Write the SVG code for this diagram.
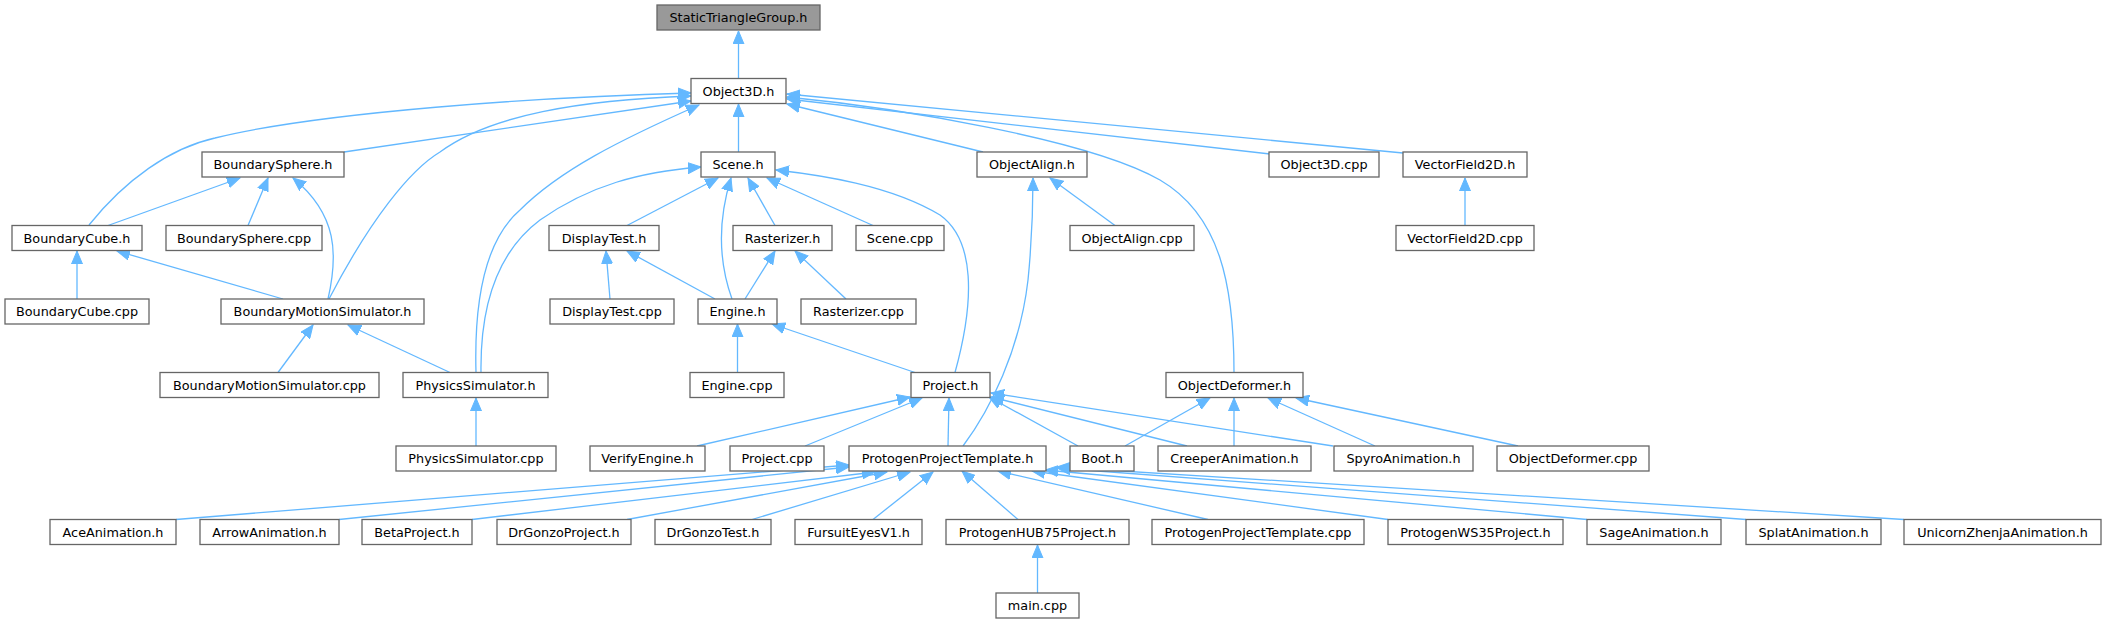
<svg xmlns="http://www.w3.org/2000/svg" width="2106" height="623" viewBox="0 0 2106 623">
<defs>
<style>
.node rect{fill:#ffffff;stroke:#666666;stroke-width:1.3}
.node.root rect{fill:#999999}
.node text{font-family:"DejaVu Sans","Liberation Sans",sans-serif;font-size:12.8px;fill:#000000;text-anchor:middle}
.edges path{fill:none;stroke:#63b8ff;stroke-width:1.3;marker-end:url(#ah)}
</style>
<marker id="ah" markerUnits="userSpaceOnUse" markerWidth="14" markerHeight="12" viewBox="0 0 14 12" refX="13" refY="6" orient="auto">
<path d="M0,0.5 L13,6 L0,11.5 z" fill="#63b8ff" stroke="#63b8ff" stroke-width="1"/>
</marker>
</defs>
<rect width="2106" height="623" fill="#ffffff"/>
<g class="edges">
<path d="M738.5,78.5 L738.5,31"/>
<path d="M89,225 C125,180 170,148 215,138 C320,112 540,97 691,93"/>
<path d="M344,152 L691,101"/>
<path d="M329,299 C370,220 410,170 440,152 C490,115 580,100 691,96"/>
<path d="M476,372.5 C474,300 485,240 520,210 C560,170 620,140 699,105"/>
<path d="M738.5,152 L738.5,104"/>
<path d="M983,152 L787,104"/>
<path d="M1234,372.5 C1234,285 1220,215 1160,180 C1090,140 900,108 787,97"/>
<path d="M1270,154 L787,99"/>
<path d="M1403,153 L787,94"/>
<path d="M108,225.5 L240,178"/>
<path d="M248,225.5 L268,178"/>
<path d="M328,299 C338,255 338,215 293,178"/>
<path d="M77,299 L77,251"/>
<path d="M283,299 L117,251"/>
<path d="M278,372.5 L313,325"/>
<path d="M450,372.5 L348,325"/>
<path d="M476,446 L476,398"/>
<path d="M627,225.5 L718,178"/>
<path d="M481,372.5 C480,300 500,250 540,220 C590,185 640,172 701,167"/>
<path d="M732,299 C718,260 718,220 731,178"/>
<path d="M775,225.5 L748,178"/>
<path d="M873,225.5 L767,178"/>
<path d="M955,372.5 C975,300 975,240 940,215 C890,185 820,175 776,170"/>
<path d="M610,299 L606,251"/>
<path d="M715,299 L627,251"/>
<path d="M745,299 L775,251"/>
<path d="M846,299 L795,251"/>
<path d="M737.5,372.5 L737.5,324"/>
<path d="M915,372.5 L772,324"/>
<path d="M1115,225.5 L1050,178"/>
<path d="M963,446 C990,410 1020,350 1028,280 C1033,230 1033,200 1033,178"/>
<path d="M1465,225.5 L1465,178"/>
<path d="M697,446 L910,397"/>
<path d="M805,446 L922,398"/>
<path d="M948,446 L949,398"/>
<path d="M1078,446 L989,397"/>
<path d="M1187,446 L991,397"/>
<path d="M1333,446 L991,393"/>
<path d="M1125,446 L1210,398"/>
<path d="M1234,446 L1234,398"/>
<path d="M1375,446 L1268,398"/>
<path d="M1518,446 L1296,398"/>
<path d="M176,519.5 L849,465"/>
<path d="M339,519.5 L849,467"/>
<path d="M472,519.5 L875,472"/>
<path d="M627,519.5 L887,472"/>
<path d="M752,519.5 L910,472"/>
<path d="M873,519.5 L933,472"/>
<path d="M1018,519.5 L962,471"/>
<path d="M1208,519.5 L998,471"/>
<path d="M1388,519.5 L1032,471"/>
<path d="M1587,519.5 L1045,470"/>
<path d="M1746,519.5 L1057,468"/>
<path d="M1904,519.5 L1057,467"/>
<path d="M1037.5,593 L1037.5,545"/>
</g>
<g id="n_StaticTriangleGroup_h" class="node root"><rect x="657" y="5" width="163" height="25"/><text x="738.5" y="22">StaticTriangleGroup.h</text></g>
<g id="n_Object3D_h" class="node"><rect x="691" y="78.5" width="95" height="25"/><text x="738.5" y="95.5">Object3D.h</text></g>
<g id="n_BoundarySphere_h" class="node"><rect x="202" y="152" width="142" height="25"/><text x="273" y="169">BoundarySphere.h</text></g>
<g id="n_Scene_h" class="node"><rect x="701" y="152" width="74" height="25"/><text x="738" y="169">Scene.h</text></g>
<g id="n_ObjectAlign_h" class="node"><rect x="977" y="152" width="110" height="25"/><text x="1032" y="169">ObjectAlign.h</text></g>
<g id="n_Object3D_cpp" class="node"><rect x="1269" y="152" width="110" height="25"/><text x="1324" y="169">Object3D.cpp</text></g>
<g id="n_VectorField2D_h" class="node"><rect x="1403" y="152" width="124" height="25"/><text x="1465" y="169">VectorField2D.h</text></g>
<g id="n_BoundaryCube_h" class="node"><rect x="12" y="225.5" width="130" height="25"/><text x="77" y="242.5">BoundaryCube.h</text></g>
<g id="n_BoundarySphere_cpp" class="node"><rect x="166" y="225.5" width="156" height="25"/><text x="244" y="242.5">BoundarySphere.cpp</text></g>
<g id="n_DisplayTest_h" class="node"><rect x="549" y="225.5" width="110" height="25"/><text x="604" y="242.5">DisplayTest.h</text></g>
<g id="n_Rasterizer_h" class="node"><rect x="733" y="225.5" width="99" height="25"/><text x="782.5" y="242.5">Rasterizer.h</text></g>
<g id="n_Scene_cpp" class="node"><rect x="856" y="225.5" width="88" height="25"/><text x="900" y="242.5">Scene.cpp</text></g>
<g id="n_ObjectAlign_cpp" class="node"><rect x="1070" y="225.5" width="124" height="25"/><text x="1132" y="242.5">ObjectAlign.cpp</text></g>
<g id="n_VectorField2D_cpp" class="node"><rect x="1396" y="225.5" width="138" height="25"/><text x="1465" y="242.5">VectorField2D.cpp</text></g>
<g id="n_BoundaryCube_cpp" class="node"><rect x="5" y="299" width="144" height="25"/><text x="77" y="316">BoundaryCube.cpp</text></g>
<g id="n_BoundaryMotionSimulator_h" class="node"><rect x="221" y="299" width="203" height="25"/><text x="322.5" y="316">BoundaryMotionSimulator.h</text></g>
<g id="n_DisplayTest_cpp" class="node"><rect x="550" y="299" width="124" height="25"/><text x="612" y="316">DisplayTest.cpp</text></g>
<g id="n_Engine_h" class="node"><rect x="698" y="299" width="79" height="25"/><text x="737.5" y="316">Engine.h</text></g>
<g id="n_Rasterizer_cpp" class="node"><rect x="801" y="299" width="115" height="25"/><text x="858.5" y="316">Rasterizer.cpp</text></g>
<g id="n_BoundaryMotionSimulator_cpp" class="node"><rect x="160" y="372.5" width="219" height="25"/><text x="269.5" y="389.5">BoundaryMotionSimulator.cpp</text></g>
<g id="n_PhysicsSimulator_h" class="node"><rect x="403" y="372.5" width="145" height="25"/><text x="475.5" y="389.5">PhysicsSimulator.h</text></g>
<g id="n_Engine_cpp" class="node"><rect x="690" y="372.5" width="94" height="25"/><text x="737" y="389.5">Engine.cpp</text></g>
<g id="n_Project_h" class="node"><rect x="911" y="372.5" width="79" height="25"/><text x="950.5" y="389.5">Project.h</text></g>
<g id="n_ObjectDeformer_h" class="node"><rect x="1166" y="372.5" width="137" height="25"/><text x="1234.5" y="389.5">ObjectDeformer.h</text></g>
<g id="n_PhysicsSimulator_cpp" class="node"><rect x="396" y="446" width="160" height="25"/><text x="476" y="463">PhysicsSimulator.cpp</text></g>
<g id="n_VerifyEngine_h" class="node"><rect x="590" y="446" width="115" height="25"/><text x="647.5" y="463">VerifyEngine.h</text></g>
<g id="n_Project_cpp" class="node"><rect x="730" y="446" width="94" height="25"/><text x="777" y="463">Project.cpp</text></g>
<g id="n_ProtogenProjectTemplate_h" class="node"><rect x="849" y="446" width="197" height="25"/><text x="947.5" y="463">ProtogenProjectTemplate.h</text></g>
<g id="n_Boot_h" class="node"><rect x="1070" y="446" width="64" height="25"/><text x="1102" y="463">Boot.h</text></g>
<g id="n_CreeperAnimation_h" class="node"><rect x="1158" y="446" width="153" height="25"/><text x="1234.5" y="463">CreeperAnimation.h</text></g>
<g id="n_SpyroAnimation_h" class="node"><rect x="1334" y="446" width="139" height="25"/><text x="1403.5" y="463">SpyroAnimation.h</text></g>
<g id="n_ObjectDeformer_cpp" class="node"><rect x="1497" y="446" width="152" height="25"/><text x="1573" y="463">ObjectDeformer.cpp</text></g>
<g id="n_AceAnimation_h" class="node"><rect x="50" y="519.5" width="126" height="25"/><text x="113" y="536.5">AceAnimation.h</text></g>
<g id="n_ArrowAnimation_h" class="node"><rect x="200" y="519.5" width="139" height="25"/><text x="269.5" y="536.5">ArrowAnimation.h</text></g>
<g id="n_BetaProject_h" class="node"><rect x="362" y="519.5" width="110" height="25"/><text x="417" y="536.5">BetaProject.h</text></g>
<g id="n_DrGonzoProject_h" class="node"><rect x="497" y="519.5" width="134" height="25"/><text x="564" y="536.5">DrGonzoProject.h</text></g>
<g id="n_DrGonzoTest_h" class="node"><rect x="655" y="519.5" width="116" height="25"/><text x="713" y="536.5">DrGonzoTest.h</text></g>
<g id="n_FursuitEyesV1_h" class="node"><rect x="795" y="519.5" width="127" height="25"/><text x="858.5" y="536.5">FursuitEyesV1.h</text></g>
<g id="n_ProtogenHUB75Project_h" class="node"><rect x="946" y="519.5" width="183" height="25"/><text x="1037.5" y="536.5">ProtogenHUB75Project.h</text></g>
<g id="n_ProtogenProjectTemplate_cpp" class="node"><rect x="1152" y="519.5" width="212" height="25"/><text x="1258" y="536.5">ProtogenProjectTemplate.cpp</text></g>
<g id="n_ProtogenWS35Project_h" class="node"><rect x="1388" y="519.5" width="175" height="25"/><text x="1475.5" y="536.5">ProtogenWS35Project.h</text></g>
<g id="n_SageAnimation_h" class="node"><rect x="1587" y="519.5" width="134" height="25"/><text x="1654" y="536.5">SageAnimation.h</text></g>
<g id="n_SplatAnimation_h" class="node"><rect x="1746" y="519.5" width="135" height="25"/><text x="1813.5" y="536.5">SplatAnimation.h</text></g>
<g id="n_UnicornZhenjaAnimation_h" class="node"><rect x="1904" y="519.5" width="197" height="25"/><text x="2002.5" y="536.5">UnicornZhenjaAnimation.h</text></g>
<g id="n_main_cpp" class="node"><rect x="996" y="593" width="83" height="25"/><text x="1037.5" y="610">main.cpp</text></g>
</svg>
